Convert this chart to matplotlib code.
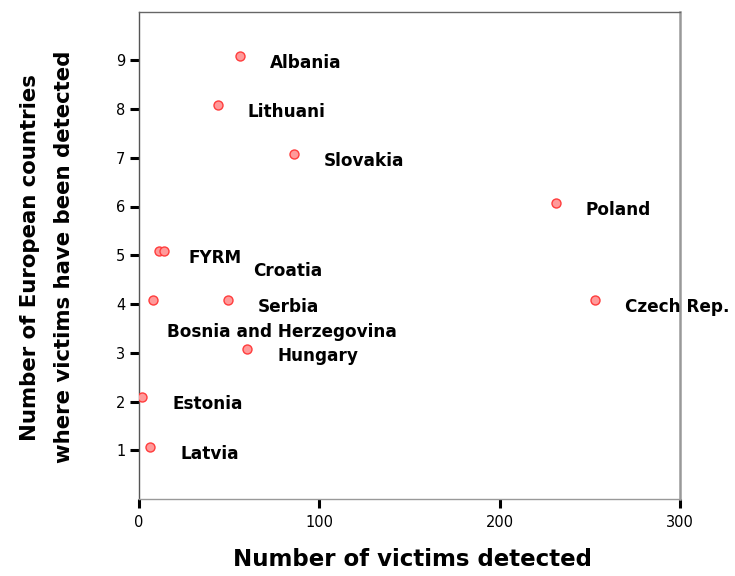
import matplotlib
matplotlib.use("Agg")
import matplotlib.pyplot as plt

countries = ["Albania", "Lithuani", "Slovakia", "Poland", "Czech Rep.", "FYRM",
             "Croatia", "Serbia", "Bosnia and Herzegovina", "Hungary", "Estonia", "Latvia"]
victims = [56, 43.6, 86, 231, 253, 11, 14, 49.4, 7.8, 60, 1.8, 6.1]
n_countries = [9.09, 8.08, 7.08, 6.07, 4.08, 5.09, 5.09, 4.08, 4.08, 3.08, 2.1, 1.07]

xticks = [0, 100, 200, 300]
yticks = [1, 2, 3, 4, 5, 6, 7, 8, 9]

plt.rcParams['font.family'] = ['DejaVu Sans']

fig = plt.figure(figsize=(7.35, 5.76), dpi=100)
ax = fig.add_axes([139/735, 1 - 499/576, 541/735, 487.5/576])

ax.scatter(victims, n_countries, s=42, marker='o', facecolor='#ff9a9a',
           edgecolor='#ff3c3c', linewidth=1.0, zorder=3)

default_off = (21.6, -5.0)
special_off = {"Croatia": (64, -14.4), "Bosnia and Herzegovina": (10, -23)}
for name, xv, yv in zip(countries, victims, n_countries):
    off = special_off.get(name, default_off)
    ax.annotate(name, (xv, yv), xytext=off, textcoords='offset points',
                ha='left', va='center', fontsize=12.2, fontweight='bold', color='black')

ax.set_xlim(0, 300)
ax.set_ylim(0, 10)
ax.set_xticks(xticks)
ax.set_yticks(yticks)
ax.tick_params(axis='both', direction='out', length=6.8, width=2.2, color='black',
               labelsize=10.5)
ax.tick_params(axis='x', pad=5)
ax.tick_params(axis='y', pad=3)

ax.spines['top'].set_color('#666666')
ax.spines['left'].set_color('#555555')
ax.spines['bottom'].set_color('#999999')
ax.spines['right'].set_color('#999999')
ax.spines['right'].set_linewidth(1.8)
for s in ['top', 'left', 'bottom']:
    ax.spines[s].set_linewidth(1.0)

ax.set_xlabel("Number of victims detected", fontsize=16.5, fontweight='bold')
ax.xaxis.set_label_coords(0.505, -0.125)
ax.xaxis.label.set_va('center')

ax.set_ylabel("Number of European countries\nwhere victims have been detected",
              fontsize=15.3, fontweight='bold', linespacing=1.85)
ax.yaxis.set_label_coords(-0.17, 0.496)
ax.yaxis.label.set_va('center')

fig.savefig("out.png", dpi=100)
